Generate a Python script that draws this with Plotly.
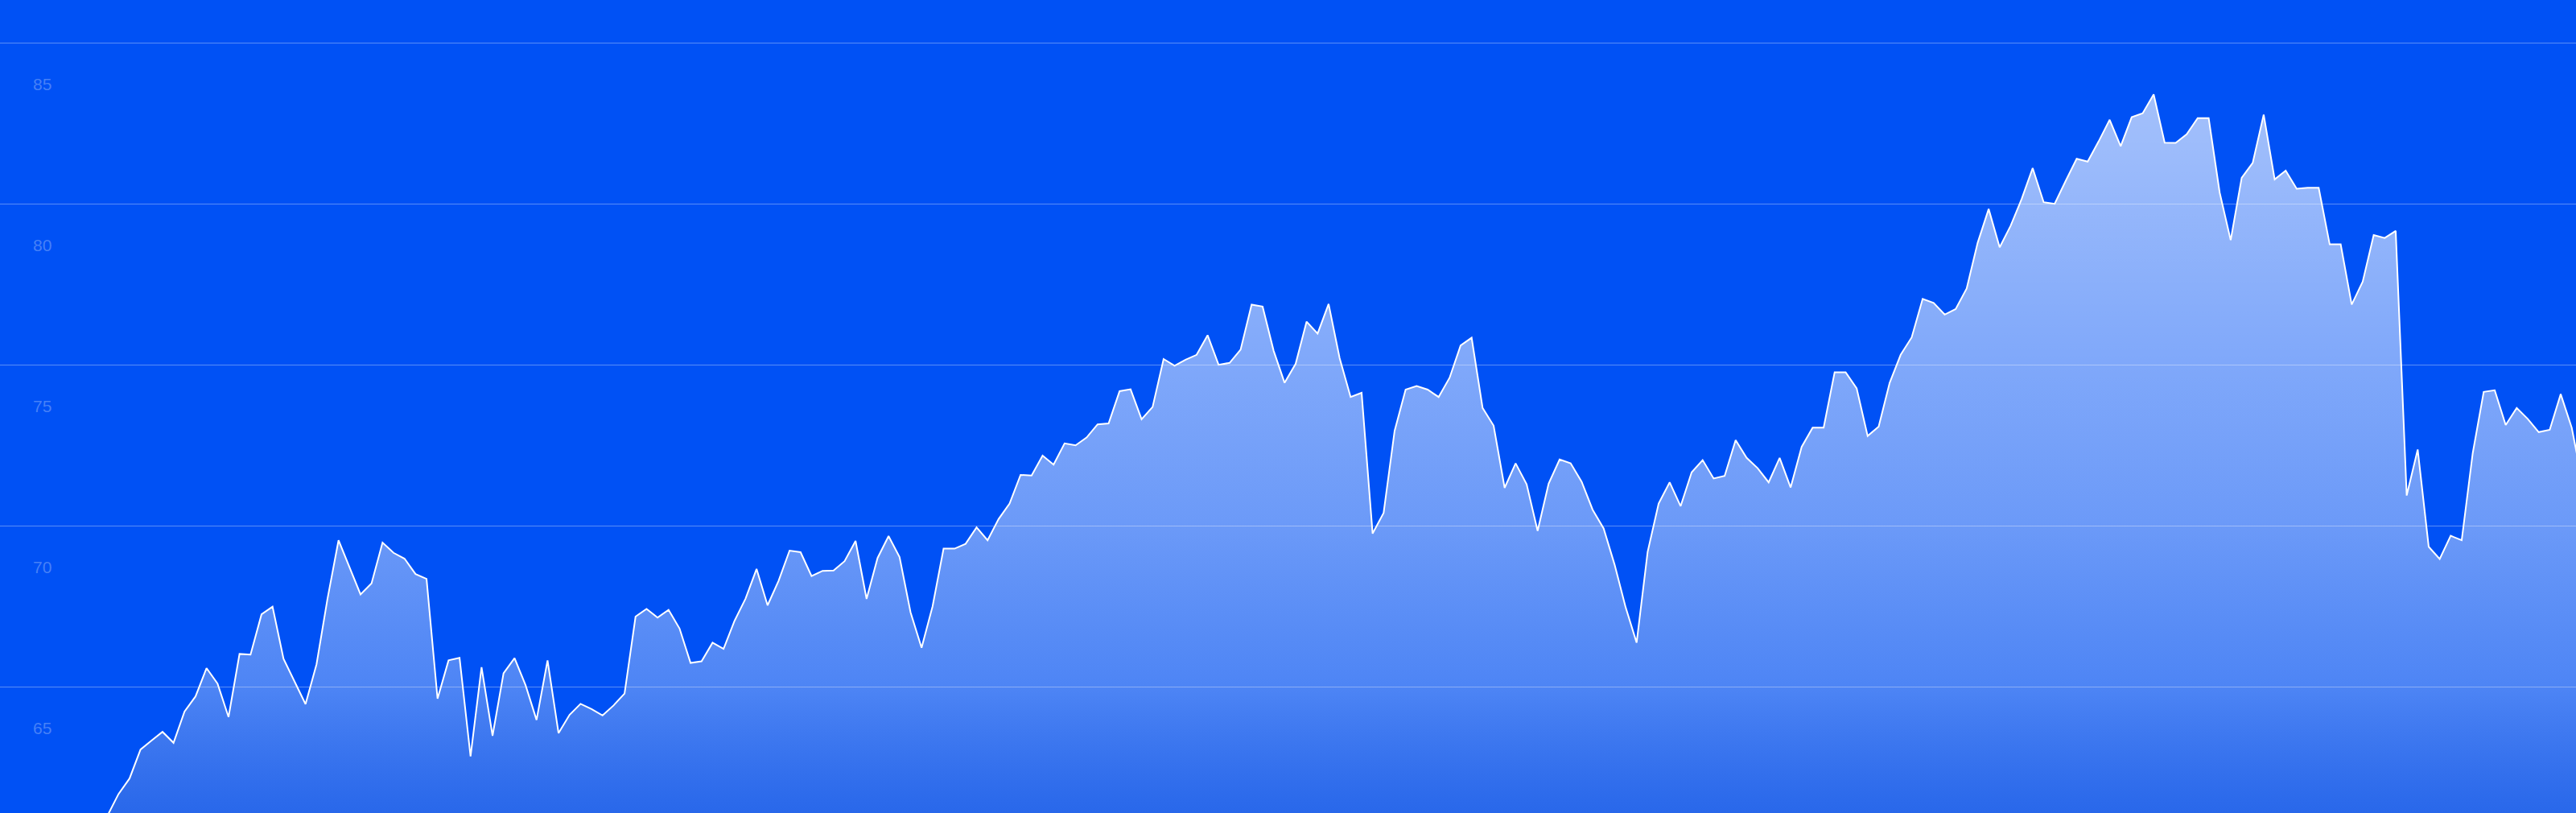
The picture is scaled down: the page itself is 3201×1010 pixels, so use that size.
import plotly.graph_objects as go

# Daily closing values (first value sits just below the visible area)
prices = [
    61.0, 61.67, 62.15, 63.05, 63.33, 63.6, 63.26, 64.23, 64.7, 65.58,
    65.1, 64.06, 66.02, 66.0, 67.25, 67.49, 65.87, 65.18, 64.46, 65.7,
    67.74, 69.55, 68.71, 67.87, 68.21, 69.48, 69.16, 68.98, 68.5, 68.35,
    64.63, 65.82, 65.9, 62.84, 65.61, 63.48, 65.42, 65.89, 65.05, 63.97,
    65.82, 63.56, 64.13, 64.47, 64.31, 64.11, 64.42, 64.79, 67.18, 67.42,
    67.15, 67.39, 66.81, 65.74, 65.79, 66.37, 66.18, 67.05, 67.74, 68.66,
    67.53, 68.29, 69.23, 69.18, 68.44, 68.6, 68.61, 68.9, 69.53, 67.73,
    69.0, 69.68, 69.03, 67.31, 66.21, 67.5, 69.29, 69.29, 69.44, 69.95,
    69.55, 70.21, 70.69, 71.58, 71.56, 72.18, 71.9, 72.56, 72.5, 72.74,
    73.15, 73.18, 74.18, 74.24, 73.31, 73.69, 75.18, 74.97, 75.16, 75.31,
    75.92, 75.0, 75.06, 75.47, 76.87, 76.81, 75.44, 74.44, 75.03, 76.34,
    75.97, 76.89, 75.21, 74.0, 74.13, 69.76, 70.4, 72.95, 74.23, 74.34,
    74.23, 74.0, 74.6, 75.6, 75.84, 73.66, 73.11, 71.18, 71.94, 71.29,
    69.84, 71.31, 72.06, 71.94, 71.37, 70.5, 69.92, 68.79, 67.47, 66.37,
    69.19, 70.69, 71.35, 70.61, 71.66, 72.04, 71.47, 71.55, 72.66, 72.11,
    71.79, 71.35, 72.11, 71.19, 72.45, 73.05, 73.05, 74.77, 74.77, 74.27,
    72.79, 73.08, 74.44, 75.31, 75.85, 77.05, 76.92, 76.56, 76.73, 77.37,
    78.79, 79.84, 78.65, 79.32, 80.15, 81.11, 80.05, 80.0, 80.71, 81.4,
    81.31, 81.94, 82.61, 81.79, 82.69, 82.81, 83.4, 81.9, 81.89, 82.16,
    82.66, 82.66, 80.35, 78.87, 80.81, 81.27, 82.77, 80.76, 81.03, 80.47,
    80.5, 80.5, 78.74, 78.74, 76.87, 77.58, 79.03, 78.94, 79.16, 70.94,
    72.37, 69.35, 68.97, 69.69, 69.55, 72.25, 74.16, 74.21, 73.13, 73.66,
    73.32, 72.91, 72.98, 74.09, 73.05, 71.3,
]
days = list(range(len(prices)))

tick_values = [65, 70, 75, 80, 85]
tick_labels = ["65", "70", "75", "80", "85"]

BG = "#0051F5"

fig = go.Figure()
fig.add_trace(go.Scatter(
    x=days,
    y=prices,
    mode="lines",
    line=dict(color="#ffffff", width=2),
    fill="tozeroy",
    fillgradient=dict(
        type="vertical",
        start=61.08,
        stop=85,
        colorscale=[
            [0.0, "rgba(170,175,200,0.24)"],
            [0.164, "rgba(235,238,245,0.33)"],
            [0.373, "rgba(250,250,252,0.43)"],
            [0.582, "rgba(255,255,255,0.50)"],
            [0.875, "rgba(255,255,255,0.62)"],
            [1.0, "rgba(255,255,255,0.66)"],
        ],
    ),
    hoverinfo="skip",
    showlegend=False,
))

fig.update_layout(
    width=3201,
    height=1010,
    margin=dict(l=0, r=0, t=0, b=0, pad=0),
    paper_bgcolor=BG,
    plot_bgcolor=BG,
    showlegend=False,
    xaxis=dict(
        range=[-9.773, 224.39],
        visible=False,
        showgrid=False,
        zeroline=False,
        fixedrange=True,
    ),
    yaxis=dict(
        range=[61.08, 86.33],
        tickvals=tick_values,
        ticktext=tick_labels,
        ticks="",
        showline=False,
        zeroline=False,
        showgrid=True,
        gridcolor="rgba(255,255,255,0.35)",
        gridwidth=1,
        ticklabelposition="inside",
        ticklabelstandoff=38,
        ticklabelshift=51,
        tickfont=dict(family="Liberation Sans, Arial, sans-serif", size=21,
                      color="rgba(255,255,255,0.28)"),
        fixedrange=True,
    ),
)

fig.write_html(
    "out.html",
    config={"displayModeBar": False, "staticPlot": True},
    post_script="document.body.style.margin='0';document.body.style.overflow='hidden';",
)
